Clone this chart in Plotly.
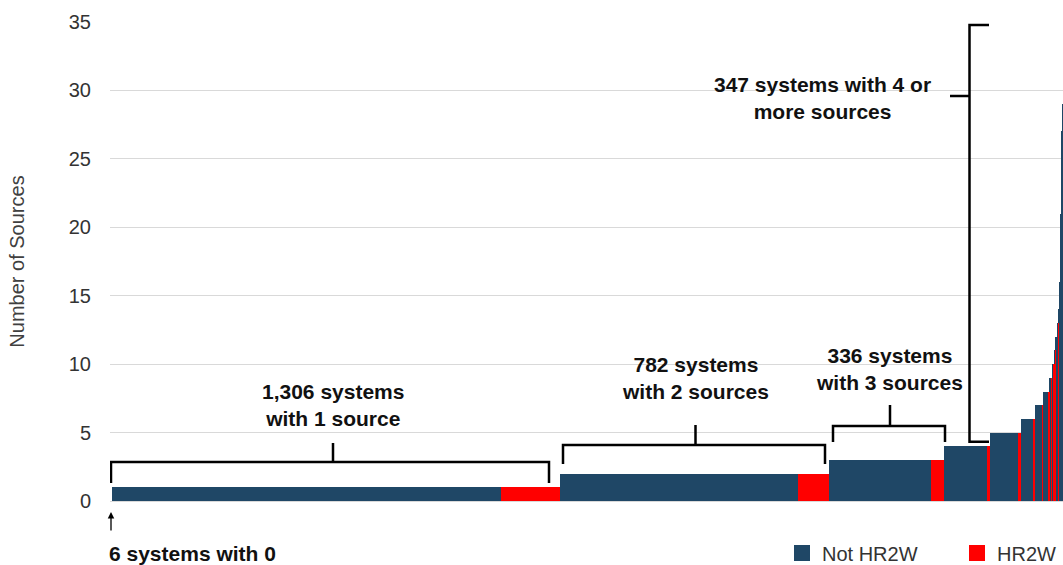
import numpy as np
import plotly.graph_objects as go

# ---- data ----
levels = [0, 1, 2, 3, 4, 5, 6, 7, 8, 9, 10, 11, 12, 13, 14, 16, 21, 27, 29]
not_hr2w = [6, 1134, 692, 298, 125, 82, 37, 22, 17, 6, 6, 4, 4, 3, 4, 3, 2, 2, 2]
hr2w = [0, 172, 90, 38, 9, 8, 3, 2, 2, 1, 1, 1, 0, 1, 0, 0, 0, 0, 0]

group_labels = [
    "1,306 systems<br>with 1 source",
    "782 systems<br>with 2 sources",
    "336 systems<br>with 3 sources",
    "347 systems with 4 or<br>more sources",
]
zero_label = "6 systems with 0"

NAVY = "#1F4766"
RED = "#FF0000"
FONT = "Liberation Sans, Arial, sans-serif"

# ---- build bars: one segment per (level, HR2W) group, width = number of systems ----
seg = {"n": {"x": [], "w": [], "y": []}, "h": {"x": [], "w": [], "y": []}}
pos = 0
for lv, a, b in zip(levels, not_hr2w, hr2w):
    for key, cnt in (("n", a), ("h", b)):
        if cnt > 0:
            seg[key]["x"].append(pos + cnt / 2)
            seg[key]["w"].append(cnt)
            seg[key]["y"].append(lv)
            pos += cnt
total = pos

fig = go.Figure()
fig.add_trace(go.Bar(x=seg["n"]["x"], y=seg["n"]["y"], width=seg["n"]["w"],
                     marker=dict(color=NAVY, line=dict(width=0)), name="Not HR2W",
                     showlegend=False))
fig.add_trace(go.Bar(x=seg["h"]["x"], y=seg["h"]["y"], width=seg["h"]["w"],
                     marker=dict(color=RED, line=dict(width=0)), name="HR2W",
                     showlegend=False))
# legend entries
for nm, c in (("Not HR2W", NAVY), ("HR2W", RED)):
    fig.add_trace(go.Scatter(x=[None], y=[None], mode="markers", name=nm,
                             marker=dict(symbol="square", size=20, color=c)))

# ---- pixel -> data helpers for annotation placement ----
PL, PR, PT, PB = 110, 1063, 22, 501
YMAX = 35


def dx(px):
    return (px - PL) / (PR - PL) * total


def dy(py):
    return (PB - py) / (PB - PT) * YMAX


shapes = []
LINE = dict(color="black", width=2.5)


def hbracket(x0, x1, xc, y, yend, ytop):
    path = (f"M {dx(x0)},{dy(yend)} L {dx(x0)},{dy(y)} L {dx(x1)},{dy(y)} L {dx(x1)},{dy(yend)} "
            f"M {dx(xc)},{dy(y)} L {dx(xc)},{dy(ytop)}")
    shapes.append(dict(type="path", xref="x", yref="y", path=path, line=LINE))


hbracket(111, 549, 333, 462, 483, 443)
hbracket(563, 825, 695.5, 445, 464, 425)
hbracket(833, 945, 890, 426, 442, 405)
# vertical bracket for 4+ sources
vpath = (f"M {dx(989)},{dy(25)} L {dx(969.5)},{dy(25)} L {dx(969.5)},{dy(441.7)} L {dx(989)},{dy(441.7)} "
         f"M {dx(950)},{dy(96)} L {dx(969.5)},{dy(96)}")
shapes.append(dict(type="path", xref="x", yref="y", path=vpath, line=LINE))
fig.update_layout(shapes=shapes)

ann_font = dict(family=FONT, size=21, color="#111111")
label_pos = [(333, 404.5), (695, 377.5), (889, 368.5), (822, 97.5)]
for txt, (px, py) in zip(group_labels, label_pos):
    fig.add_annotation(x=dx(px), y=dy(py), xref="x", yref="y", text=f"<b>{txt}</b>",
                       showarrow=False, font=ann_font, align="center")

fig.add_annotation(x=(107 - PL) / (PR - PL), y=(PB - 553) / (PB - PT), xref="paper", yref="paper",
                   text=f"<b>{zero_label}</b>", showarrow=False, xanchor="left",
                   yanchor="middle", font=ann_font)
fig.add_annotation(x=(111 - PL) / (PR - PL), y=(PB - 512) / (PB - PT), xref="paper", yref="paper",
                   text="", showarrow=True, arrowhead=2, arrowsize=1, arrowwidth=1.3,
                   arrowcolor="black", ax=0, ay=20)

fig.update_layout(
    width=1063, height=565,
    margin=dict(l=PL, r=1063 - PR, t=PT, b=565 - PB, autoexpand=False),
    plot_bgcolor="white", paper_bgcolor="white",
    bargap=0,
    font=dict(family=FONT, size=20, color="#333333"),
    xaxis=dict(range=[0, total], showgrid=False, showticklabels=False, zeroline=False,
               showline=False, ticks=""),
    yaxis=dict(range=[0, YMAX], dtick=5, showgrid=True, gridcolor="#D9D9D9", gridwidth=1,
               zeroline=True, zerolinecolor="#D9D9D9", zerolinewidth=1, showline=False,
               ticks="", ticklabelstandoff=18,
               tickfont=dict(size=20, color="#333333"),
               title=dict(text="Number of Sources", standoff=38,
                          font=dict(size=20, color="#404040"))),
    legend=dict(orientation="h", x=(782 - PL) / (PR - PL), y=(PB - 553) / (PB - PT),
                xanchor="left", yanchor="middle", font=dict(size=20, color="#333333"),
                entrywidth=130, itemsizing="trace", bgcolor="rgba(0,0,0,0)"),
)

fig.write_html("out.html", config={"displayModeBar": False},
               post_script="document.body.style.margin='0';document.body.style.overflow='hidden';")
